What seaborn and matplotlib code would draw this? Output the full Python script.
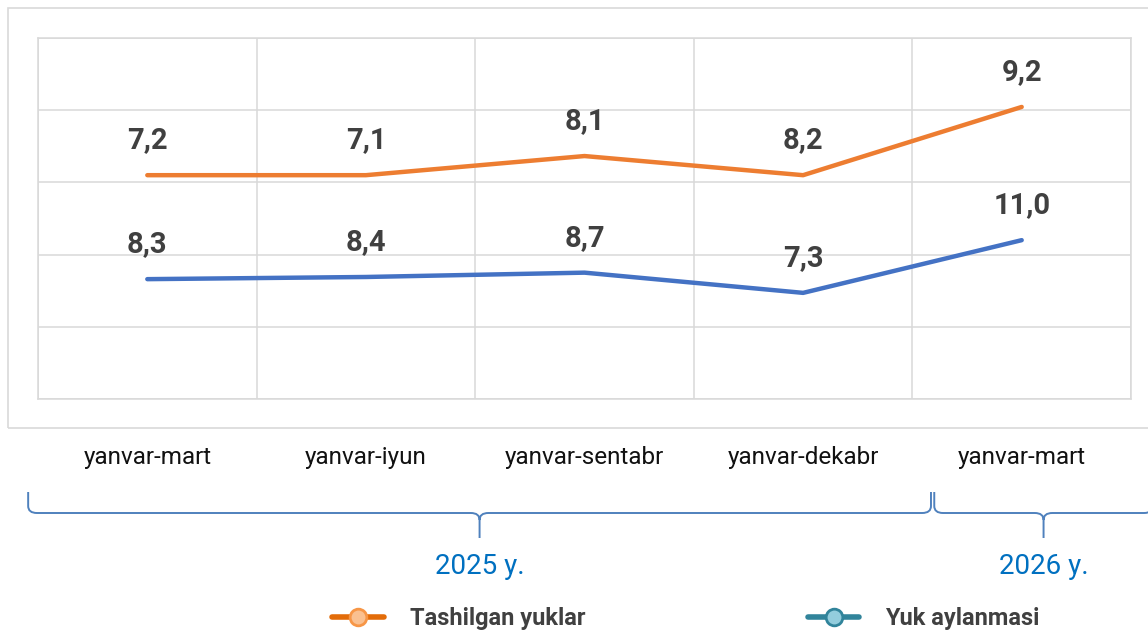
import matplotlib
matplotlib.use("Agg")
import matplotlib.pyplot as plt
import matplotlib.font_manager as fm
from matplotlib.lines import Line2D
from matplotlib.patches import Rectangle, PathPatch
from matplotlib.path import Path
import matplotlib.transforms as mtransforms
import seaborn as sns
import pandas as pd

periods = ["yanvar-mart", "yanvar-iyun", "yanvar-sentabr", "yanvar-dekabr", "yanvar-mart"]
years = ["2025 y.", "2026 y."]
series_names = ["Tashilgan yuklar", "Yuk aylanmasi"]
# plotted heights (chart units) and the printed data labels
tashilgan = [62.0, 62.0, 67.3, 62.0, 80.9]
tashilgan_labels = ["7,2", "7,1", "8,1", "8,2", "9,2"]
aylanma = [33.2, 33.8, 35.0, 29.4, 44.0]
aylanma_labels = ["8,3", "8,4", "8,7", "7,3", "11,0"]

sns.set_theme(style="white")
names = {f.name for f in fm.fontManager.ttflist}
narrow = "Liberation Sans Narrow" if "Liberation Sans Narrow" in names else "Roboto"
plt.rcParams["font.family"] = [narrow, "DejaVu Sans"]

W, H = 1148, 639
fig = plt.figure(figsize=(W / 100, H / 100), dpi=100)
ax = fig.add_axes([38 / W, 1 - 399 / H, (1131 - 38) / W, (399 - 38) / H])

df = pd.DataFrame({
    "x": list(range(len(periods))) * 2,
    "y": tashilgan + aylanma,
    "series": [series_names[0]] * len(periods) + [series_names[1]] * len(periods),
})
sns.lineplot(data=df, x="x", y="y", hue="series", palette=["#ED7D31", "#4472C4"],
             linewidth=3.2, legend=False, ax=ax, solid_capstyle="round")

for vals, labs in [(tashilgan, tashilgan_labels), (aylanma, aylanma_labels)]:
    for i, (v, t) in enumerate(zip(vals, labs)):
        ax.annotate(t, (i, v), xytext=(0, 25), textcoords="offset points",
                    ha="center", va="center", fontsize=21, fontweight="bold",
                    color="#404040")

ax.set_xlim(-0.5, len(periods) - 0.5)
ax.set_ylim(0, 100)
ax.set_yticks(range(0, 101, 20))
ax.set_xticks([i - 0.5 for i in range(len(periods) + 1)], minor=True)
ax.set_xticks(range(len(periods)), periods)
ax.set_yticklabels([])
ax.grid(which="major", axis="y", color="#D9D9D9", lw=1.1)
ax.grid(which="minor", axis="x", color="#D9D9D9", lw=1.1)
ax.tick_params(which="both", length=0)
ax.tick_params(axis="x", pad=34, labelsize=17.5, labelcolor="#111111")
ax.set_xlabel("")
ax.set_ylabel("")
for s in ax.spines.values():
    s.set_color("#D9D9D9")
    s.set_linewidth(1.1)

# outer frame
fig.patches.append(Rectangle((8 / W, 1 - 428 / H), 1.2, (428 - 8) / H, transform=fig.transFigure,
                             fill=False, edgecolor="#D9D9D9", lw=1.2))

# braces under the period labels
tr = mtransforms.blended_transform_factory(ax.transData, fig.transFigure)


def fy(p):
    return 1 - p / H


def brace(x0, x1, top=492, line=513, tip=538, r=0.04):
    xm = (x0 + x1) / 2
    verts = [(x0, fy(top)), (x0, fy(line - 7)), (x0, fy(line)), (x0 + r, fy(line)),
             (xm - r, fy(line)), (xm, fy(line)), (xm, fy(line + 7)), (xm, fy(tip)),
             (xm, fy(line + 7)), (xm, fy(line)), (xm + r, fy(line)),
             (x1 - r, fy(line)), (x1, fy(line)), (x1, fy(line - 7)), (x1, fy(top))]
    codes = [Path.MOVETO, Path.LINETO, Path.CURVE3, Path.CURVE3,
             Path.LINETO, Path.CURVE3, Path.CURVE3, Path.LINETO,
             Path.MOVETO, Path.CURVE3, Path.CURVE3,
             Path.LINETO, Path.CURVE3, Path.CURVE3, Path.LINETO]
    ax.add_patch(PathPatch(Path(verts, codes), transform=tr, fill=False,
                           edgecolor="#4F81BD", lw=1.4, clip_on=False))
    return xm


spans = [(-0.545, 3.585), (3.60, 4.60)]
for (x0, x1), yr in zip(spans, years):
    xm = brace(x0, x1)
    ax.text(xm, fy(566), yr, transform=tr, ha="center", va="center",
            fontsize=20, color="#0070C0", clip_on=False)

handles = [
    Line2D([], [], color="#E36C09", lw=4, marker="o", markersize=12,
           markerfacecolor="#FAC090", markeredgecolor="#F79646", markeredgewidth=2),
    Line2D([], [], color="#31849B", lw=4, marker="o", markersize=12,
           markerfacecolor="#93CDDD", markeredgecolor="#31849B", markeredgewidth=2),
]
fig.legend(handles, series_names, loc="center", bbox_to_anchor=(686 / W, 1 - 619 / H),
           ncol=2, frameon=False, handlelength=2.2, handletextpad=1.1, columnspacing=9.4,
           prop={"size": 17, "weight": "bold"}, labelcolor="#404040")

fig.savefig("out.png", dpi=100)
